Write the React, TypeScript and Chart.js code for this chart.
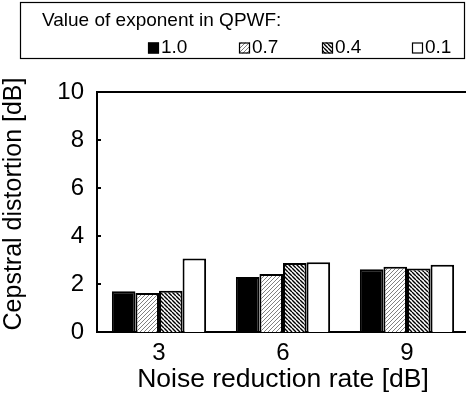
import React, { useEffect, useRef } from 'react';
import { Chart, registerables } from 'chart.js';

Chart.register(...registerables);

const categories = ['3', '6', '9'];
const seriesLabels = ['1.0', '0.7', '0.4', '0.1'];
const values10 = [1.7, 2.29, 2.61];
const values07 = [1.63, 2.42, 2.72];
const values04 = [1.72, 2.88, 2.65];
const values01 = [3.06, 2.91, 2.8];
const yTicks = [0, 2, 4, 6, 8, 10];
const legendTitle = 'Value of exponent in QPWF:';
const xTitle = 'Noise reduction rate [dB]';
const yTitle = 'Cepstral distortion [dB]';

const FONT = '"Liberation Sans", Arial, Helvetica, sans-serif';

function makePattern(dir: 'slash' | 'back', color: string, lw: number, size: number): CanvasPattern | string {
  const c = document.createElement('canvas');
  c.width = size;
  c.height = size;
  const g = c.getContext('2d');
  if (!g) return color;
  g.fillStyle = '#fff';
  g.fillRect(0, 0, size, size);
  g.strokeStyle = color;
  g.lineWidth = lw;
  g.beginPath();
  for (const k of [-size, 0, size]) {
    if (dir === 'slash') {
      g.moveTo(k, size);
      g.lineTo(k + size, 0);
    } else {
      g.moveTo(k, 0);
      g.lineTo(k + size, size);
    }
  }
  g.stroke();
  const p = g.createPattern(c, 'repeat');
  return p || color;
}

export default function App() {
  const ref = useRef<HTMLCanvasElement | null>(null);

  useEffect(() => {
    if (!ref.current) return;
    const slash = makePattern('slash', '#808080', 1, 4);
    const back = makePattern('back', '#000', 1.4, 4);
    const fills: any[] = ['#000', slash, back, '#fff'];
    const seriesValues = [values10, values07, values04, values01];

    const extras = {
      id: 'extras',
      afterDraw(chart: any) {
        const { ctx, chartArea } = chart;
        ctx.save();
        ctx.strokeStyle = '#000';
        ctx.lineWidth = 2;
        ctx.beginPath();
        ctx.moveTo(chartArea.left - 1, chartArea.top);
        ctx.lineTo(chart.width, chartArea.top);
        const ys = chart.scales.y;
        for (const v of yTicks) {
          if (v === yTicks[0] || v === yTicks[yTicks.length - 1]) continue;
          const py = ys.getPixelForValue(v);
          ctx.moveTo(chartArea.left, py);
          ctx.lineTo(chartArea.left + 4, py);
        }
        ctx.stroke();

        // y title
        ctx.save();
        ctx.translate(14, 204);
        ctx.rotate(-Math.PI / 2);
        ctx.fillStyle = '#000';
        ctx.font = `25px ${FONT}`;
        ctx.textAlign = 'center';
        ctx.textBaseline = 'middle';
        ctx.fillText(yTitle, 0, 0);
        ctx.restore();

        // legend box
        ctx.lineWidth = 1.2;
        ctx.strokeRect(20.5, 2.5, 444, 56);
        ctx.fillStyle = '#000';
        ctx.font = `19px ${FONT}`;
        ctx.textAlign = 'left';
        ctx.textBaseline = 'alphabetic';
        ctx.fillText(legendTitle, 42, 26);
        const boxX = [148, 239, 322, 412];
        chart.data.datasets.forEach((ds: any, i: number) => {
          const x = boxX[i];
          ctx.fillStyle = ds.backgroundColor;
          ctx.fillRect(x, 42.5, 11, 11);
          ctx.lineWidth = 1.2;
          ctx.strokeStyle = '#000';
          ctx.strokeRect(x + 0.5, 43, 10, 10);
          ctx.fillStyle = '#000';
          ctx.fillText(ds.label, x + 13, 53);
        });
        ctx.restore();
      },
    };

    const chart = new Chart(ref.current, {
      type: 'bar',
      data: {
        labels: categories,
        datasets: seriesLabels.map((lab, i) => ({
          label: lab,
          data: seriesValues[i],
          backgroundColor: fills[i],
          borderColor: '#000',
          borderWidth: { top: 2, left: 2, right: 2, bottom: 0 },
          barPercentage: 1.0,
          categoryPercentage: 0.76,
        })),
      },
      options: {
        animation: false,
        responsive: false,
        layout: { padding: { left: 0, right: 1, top: 92, bottom: 0 } },
        plugins: {
          legend: { display: false },
          tooltip: { enabled: false },
        },
        scales: {
          x: {
            grid: { display: false, drawTicks: false },
            border: { display: true, color: '#000', width: 2 },
            ticks: { color: '#000', font: { family: FONT, size: 24 }, padding: 7 },
            title: {
              display: true,
              text: xTitle,
              color: '#000',
              font: { family: FONT, size: 26.5 },
              padding: { top: 0, bottom: 5 },
            },
            afterFit: (s: any) => {
              s.height = 69;
            },
          },
          y: {
            min: 0,
            max: 10,
            grid: { display: false, drawTicks: false },
            border: { display: true, color: '#000', width: 2 },
            ticks: { color: '#000', font: { family: FONT, size: 24 }, padding: 13 },
            afterBuildTicks: (s: any) => {
              s.ticks = yTicks.map((v) => ({ value: v }));
            },
            afterFit: (s: any) => {
              s.width = 97;
            },
          },
        },
      },
      plugins: [extras],
    });
    return () => chart.destroy();
  }, []);

  return (
    <div
      style={{
        position: 'fixed',
        left: 0,
        top: 0,
        width: 466,
        height: 401,
        overflow: 'hidden',
        background: '#fff',
      }}
    >
      <canvas ref={ref} width={470} height={401} style={{ display: 'block' }} />
    </div>
  );
}
